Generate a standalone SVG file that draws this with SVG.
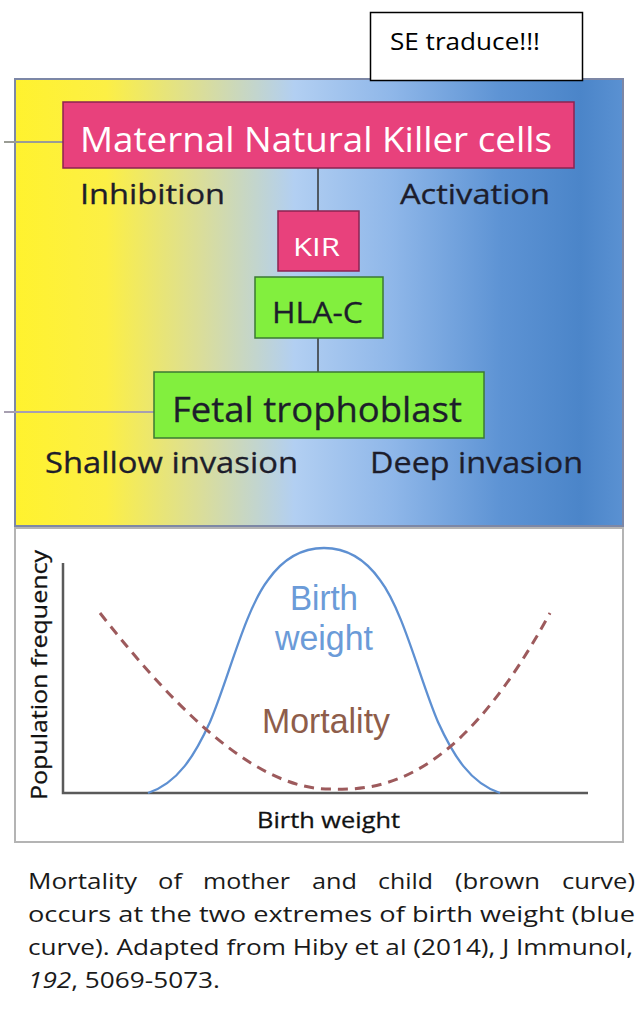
<svg xmlns="http://www.w3.org/2000/svg" width="638" height="1014" viewBox="0 0 638 1014">
<defs>
<linearGradient id="bg" gradientUnits="userSpaceOnUse" x1="15" y1="0" x2="623" y2="0">
<stop offset="0" stop-color="#fff22e"/>
<stop offset="0.15" stop-color="#fcef45"/>
<stop offset="0.31" stop-color="#d9dd9c"/>
<stop offset="0.46" stop-color="#b2cff2"/>
<stop offset="0.62" stop-color="#8fb7e9"/>
<stop offset="0.80" stop-color="#5d93d4"/>
<stop offset="0.93" stop-color="#4b85c9"/>
<stop offset="1" stop-color="#5a91d2"/>
</linearGradient>
<style>
.cal{font-family:"Open Sans","Liberation Sans",sans-serif;}
.ari{font-family:"Liberation Sans",Arial,sans-serif;}
.pink{fill:#e8417c;stroke:#8c2350;stroke-width:1.5;}
.green{fill:#82ef3e;stroke:#3b7a33;stroke-width:1.5;}
.dark{fill:#1d1d2b;stroke:#1d1d2b;stroke-width:0.3;}
.cap{fill:#1a1a1a;font-size:21px;}
</style>
</defs>
<rect width="638" height="1014" fill="#ffffff"/>

<g id="background">
<rect x="15" y="79" width="608" height="447" fill="url(#bg)" stroke="#7c87a6" stroke-width="2"/>
</g>

<g id="note">
<rect x="370.5" y="12.5" width="212" height="68" fill="#ffffff" stroke="#000000" stroke-width="1.5"/>
<text class="cal" x="390" y="50" font-size="24" fill="#000" textLength="150" lengthAdjust="spacingAndGlyphs">SE traduce!!!</text>
</g>

<g id="connectors" fill="none">
<line x1="4" y1="142" x2="63" y2="142" stroke="#9a9c94" stroke-width="2"/>
<line x1="4" y1="412" x2="154" y2="412" stroke="#a79fb0" stroke-width="2"/>
<line x1="318" y1="168" x2="318" y2="211" stroke="#333" stroke-width="1.5"/>
<line x1="318" y1="338" x2="318" y2="372" stroke="#333" stroke-width="1.5"/>
</g>

<g id="nk">
<rect class="pink" x="63" y="102" width="511" height="66"/>
<text class="cal" x="80" y="152" font-size="35" fill="#ffffff" textLength="472" lengthAdjust="spacingAndGlyphs">Maternal Natural Killer cells</text>
</g>

<g id="labels-top">
<text class="cal dark" x="80" y="204" font-size="28" textLength="145" lengthAdjust="spacingAndGlyphs">Inhibition</text>
<text class="cal dark" x="400" y="204" font-size="28" textLength="150" lengthAdjust="spacingAndGlyphs">Activation</text>
</g>

<g id="kir">
<rect class="pink" x="278" y="211" width="81" height="60"/>
<text class="cal" x="293" y="256" font-size="26" fill="#ffffff" textLength="47" lengthAdjust="spacingAndGlyphs">KIR</text>
</g>

<g id="hlac">
<rect class="green" x="255" y="277" width="128" height="61"/>
<text class="cal dark" x="272" y="323" font-size="29" textLength="91" lengthAdjust="spacingAndGlyphs">HLA-C</text>
</g>

<g id="fetal">
<rect class="green" x="154" y="372" width="330" height="66"/>
<text class="cal dark" x="172" y="422" font-size="35" textLength="290" lengthAdjust="spacingAndGlyphs">Fetal trophoblast</text>
</g>

<g id="labels-bottom">
<text class="cal dark" x="45" y="473" font-size="29" textLength="253" lengthAdjust="spacingAndGlyphs">Shallow invasion</text>
<text class="cal dark" x="370" y="473" font-size="29" textLength="213" lengthAdjust="spacingAndGlyphs">Deep invasion</text>
</g>

<g id="chart">
<rect x="15" y="528" width="608" height="314" fill="#ffffff" stroke="#b4b4b4" stroke-width="2"/>
<polyline points="63,563 63,793 588,793" fill="none" stroke="#5a5a5a" stroke-width="2.5"/>
<text class="cal" transform="translate(47,800) rotate(-90)" x="0" y="0" font-size="21" fill="#111" stroke="#111" stroke-width="0.3" textLength="250" lengthAdjust="spacingAndGlyphs">Population frequency</text>
<text class="cal" x="257" y="828" font-size="22" fill="#111" stroke="#111" stroke-width="0.3" textLength="143" lengthAdjust="spacingAndGlyphs">Birth weight</text>
<path d="M148,793 C178,783 195,755 210,722 C228,680 245,610 268,580 C285,556 305,548 324,548 C343,548 363,556 380,580 C403,610 420,680 438,722 C453,755 470,783 500,793" fill="none" stroke="#5e90d2" stroke-width="2.3"/>
<path d="M100,613 C180,715 260,792 334,789 C400,792 470,760 550,613" fill="none" stroke="#9d5a5c" stroke-width="3" stroke-dasharray="10,7"/>
<text class="ari" x="290" y="610" font-size="35" fill="#6b9bd8" textLength="68" lengthAdjust="spacingAndGlyphs">Birth</text>
<text class="ari" x="275" y="650" font-size="35" fill="#6b9bd8" textLength="98" lengthAdjust="spacingAndGlyphs">weight</text>
<text class="ari" x="262" y="733" font-size="35" fill="#8e5d4a" textLength="128" lengthAdjust="spacingAndGlyphs">Mortality</text>
</g>

<g id="caption" class="cal cap">
<text x="28" y="889" textLength="109" lengthAdjust="spacingAndGlyphs">Mortality</text>
<text x="158" y="889" textLength="24" lengthAdjust="spacingAndGlyphs">of</text>
<text x="203" y="889" textLength="87" lengthAdjust="spacingAndGlyphs">mother</text>
<text x="312" y="889" textLength="45" lengthAdjust="spacingAndGlyphs">and</text>
<text x="378" y="889" textLength="55" lengthAdjust="spacingAndGlyphs">child</text>
<text x="455" y="889" textLength="85" lengthAdjust="spacingAndGlyphs">(brown</text>
<text x="562" y="889" textLength="73" lengthAdjust="spacingAndGlyphs">curve)</text>
<text x="28" y="922" textLength="607" lengthAdjust="spacingAndGlyphs">occurs at the two extremes of birth weight (blue</text>
<text x="28" y="955" textLength="605" lengthAdjust="spacingAndGlyphs">curve). Adapted from Hiby et al (2014), J Immunol,</text>
<text x="28" y="988" textLength="192" lengthAdjust="spacingAndGlyphs"><tspan font-style="italic">192</tspan>, 5069-5073.</text>
</g>
</svg>
